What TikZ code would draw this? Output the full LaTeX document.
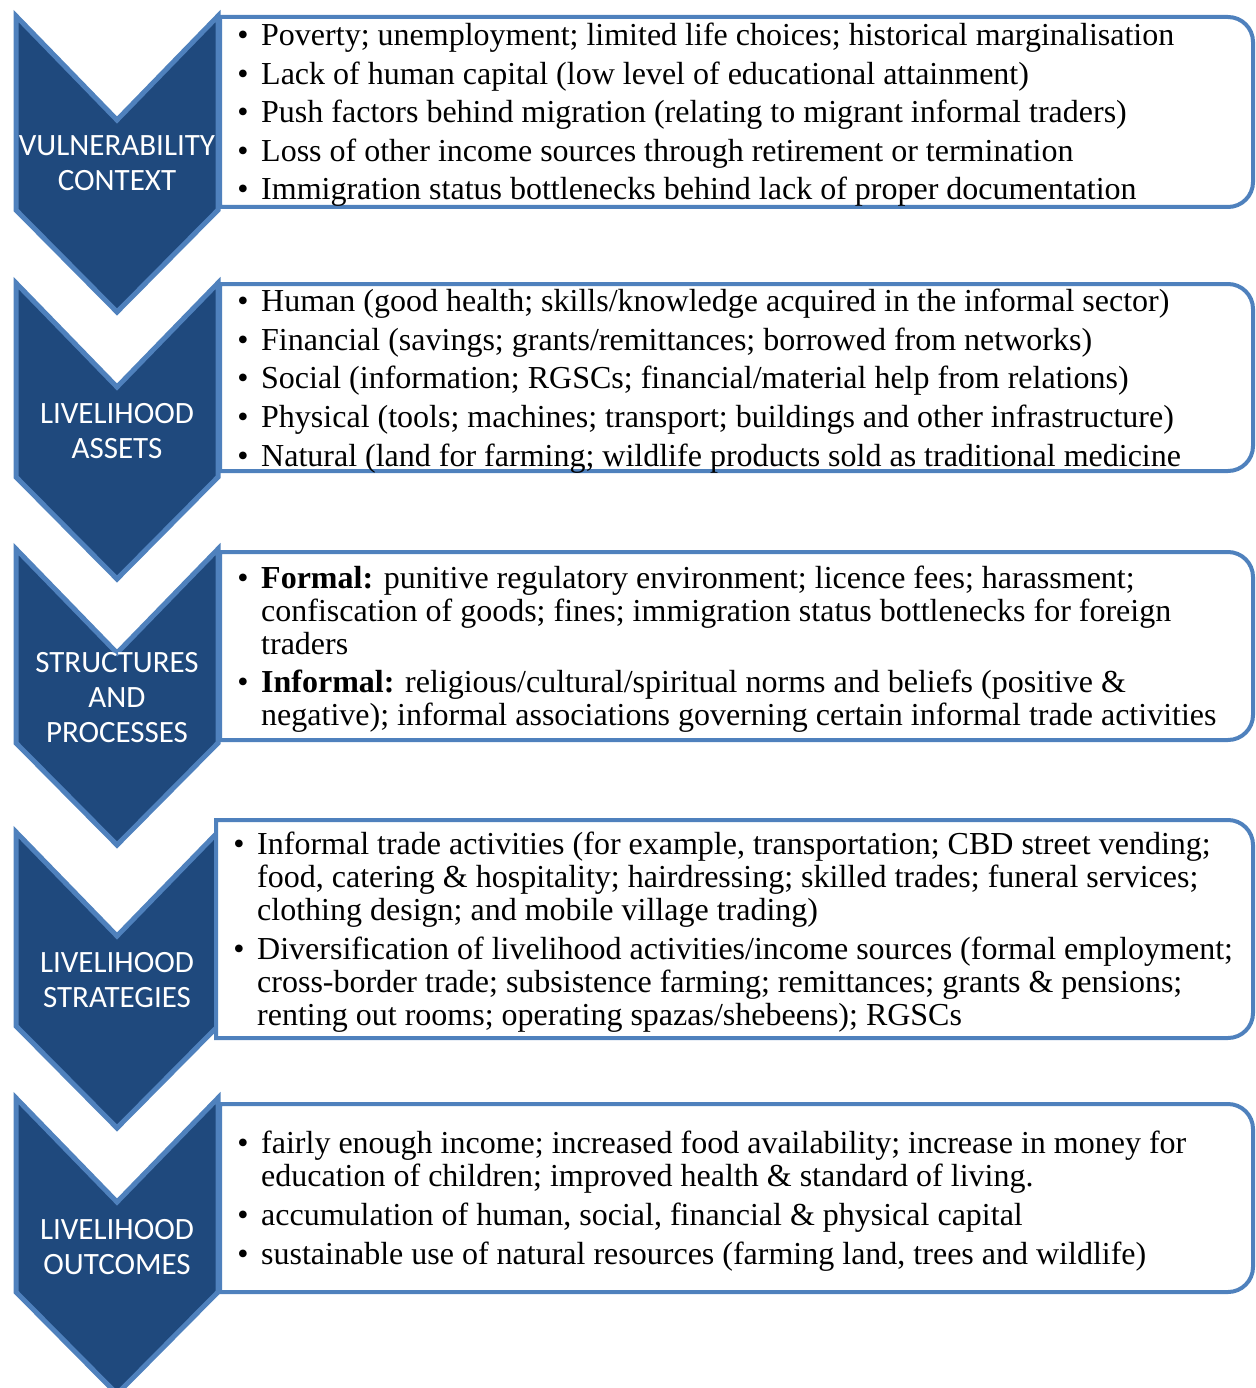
\documentclass[tikz,border=0pt]{standalone}
\usepackage{fontspec}
\setmainfont{Liberation Serif}
\newfontfamily\chevfont{Carlito}
\definecolor{chevfill}{HTML}{1F497D}
\definecolor{chevedge}{HTML}{4F81BD}
\tikzset{
  chevron/.style={draw=chevedge, fill=chevfill, line width=5pt, line join=miter},
  itembox/.style={draw=chevedge, fill=white, line width=4pt},
  clabel/.style={anchor=base, text=white, inner sep=0pt, font=\chevfont\fontsize{31}{35}\selectfont},
  itemtext/.style={anchor=base west, inner sep=0pt, font=\fontsize{32}{36}\selectfont},
  bul/.style={anchor=base, inner sep=0pt, font=\fontsize{32}{36}\selectfont}
}
\newcommand\mychev[1]{%
  \draw[chevron] (16,#1) -- (117,#1+104) -- (218,#1) -- (218,#1+194) -- (117,#1+296) -- (16,#1+194) -- cycle;}
\newcommand\mybox[3]{%
  \draw[itembox] (#1,#2) -- (1228,#2) arc[start angle=-90,end angle=0,radius=25] -- (1253,#3-25) arc[start angle=0,end angle=90,radius=25] -- (#1,#3) -- cycle;}
\begin{document}
\begin{tikzpicture}[x=1pt,y=-1pt]
\useasboundingbox (0,0) rectangle (1255,1388);
% chevrons
\mychev{16}
\mychev{283}
\mychev{549}
\mychev{832}
\mychev{1098}
% boxes
\mybox{220}{17}{207}
\mybox{220}{284}{471}
\mybox{220}{552}{740}
\mybox{216}{820}{1038}
\mybox{220}{1104}{1292}
% chevron labels
\node[clabel] (c1a) at (117,156) {VULNERABILITY};
\node[clabel] (c1b) at (117,191) {CONTEXT};
\node[clabel] (c2a) at (117,423) {LIVELIHOOD};
\node[clabel] (c2b) at (117,458) {ASSETS};
\node[clabel] (c3a) at (117,672) {STRUCTURES};
\node[clabel] (c3b) at (117,707) {AND};
\node[clabel] (c3c) at (117,742) {PROCESSES};
\node[clabel] (c4a) at (117,972) {LIVELIHOOD};
\node[clabel] (c4b) at (117,1007) {STRATEGIES};
\node[clabel] (c5a) at (117,1239) {LIVELIHOOD};
\node[clabel] (c5b) at (117,1274) {OUTCOMES};
% box 1
\node[bul] (p1a) at (243,46) {•};
\node[itemtext] (t1a) at (261,46) {Poverty; unemployment; limited life choices; historical marginalisation};
\node[bul] (p1b) at (243,85) {•};
\node[itemtext] (t1b) at (261,85) {Lack of human capital (low level of educational attainment)};
\node[bul] (p1c) at (243,123) {•};
\node[itemtext] (t1c) at (261,123) {Push factors behind migration (relating to migrant informal traders)};
\node[bul] (p1d) at (243,162) {•};
\node[itemtext] (t1d) at (261,162) {Loss of other income sources through retirement or termination};
\node[bul] (p1e) at (243,200) {•};
\node[itemtext] (t1e) at (261,200) {Immigration status bottlenecks behind lack of proper documentation};
% box 2
\node[bul] (p2a) at (243,311) {•};
\node[itemtext] (t2a) at (261,311) {Human (good health; skills/knowledge acquired in the informal sector)};
\node[bul] (p2b) at (243,350) {•};
\node[itemtext] (t2b) at (261,350) {Financial (savings; grants/remittances; borrowed from networks)};
\node[bul] (p2c) at (243,388) {•};
\node[itemtext] (t2c) at (261,388) {Social (information; RGSCs; financial/material help from relations)};
\node[bul] (p2d) at (243,427) {•};
\node[itemtext] (t2d) at (261,427) {Physical (tools; machines; transport; buildings and other infrastructure)};
\node[bul] (p2e) at (243,466) {•};
\node[itemtext] (t2e) at (261,466) {Natural (land for farming; wildlife products sold as traditional medicine};
% box 3
\node[bul] (p3a) at (243,588) {•};
\node[itemtext] (t3a) at (261,588) {\textbf{Formal:} punitive regulatory environment; licence fees; harassment;};
\node[itemtext] (t3b) at (261,621) {confiscation of goods; fines; immigration status bottlenecks for foreign};
\node[itemtext] (t3c) at (261,654) {traders};
\node[bul] (p3d) at (243,692) {•};
\node[itemtext] (t3d) at (261,692) {\textbf{Informal:} religious/cultural/spiritual norms and beliefs (positive \&};
\node[itemtext] (t3e) at (261,725) {negative); informal associations governing certain informal trade activities};
% box 4
\node[bul] (p4a) at (239,854) {•};
\node[itemtext] (t4a) at (257,854) {Informal trade activities (for example, transportation; CBD street vending;};
\node[itemtext] (t4b) at (257,887) {food, catering \& hospitality; hairdressing; skilled trades; funeral services;};
\node[itemtext] (t4c) at (257,920) {clothing design; and mobile village trading)};
\node[bul] (p4d) at (239,959) {•};
\node[itemtext] (t4d) at (257,959) {Diversification of livelihood activities/income sources (formal employment;};
\node[itemtext] (t4e) at (257,992) {cross-border trade; subsistence farming; remittances; grants \& pensions;};
\node[itemtext] (t4f) at (257,1025) {renting out rooms; operating spazas/shebeens); RGSCs};
% box 5
\node[bul] (p5a) at (243,1153) {•};
\node[itemtext] (t5a) at (261,1153) {fairly enough income; increased food availability; increase in money for};
\node[itemtext] (t5b) at (261,1186) {education of children; improved health \& standard of living.};
\node[bul] (p5c) at (243,1225) {•};
\node[itemtext] (t5c) at (261,1225) {accumulation of human, social, financial \& physical capital};
\node[bul] (p5d) at (243,1264) {•};
\node[itemtext] (t5d) at (261,1264) {sustainable use of natural resources (farming land, trees and wildlife)};
\end{tikzpicture}
\end{document}
